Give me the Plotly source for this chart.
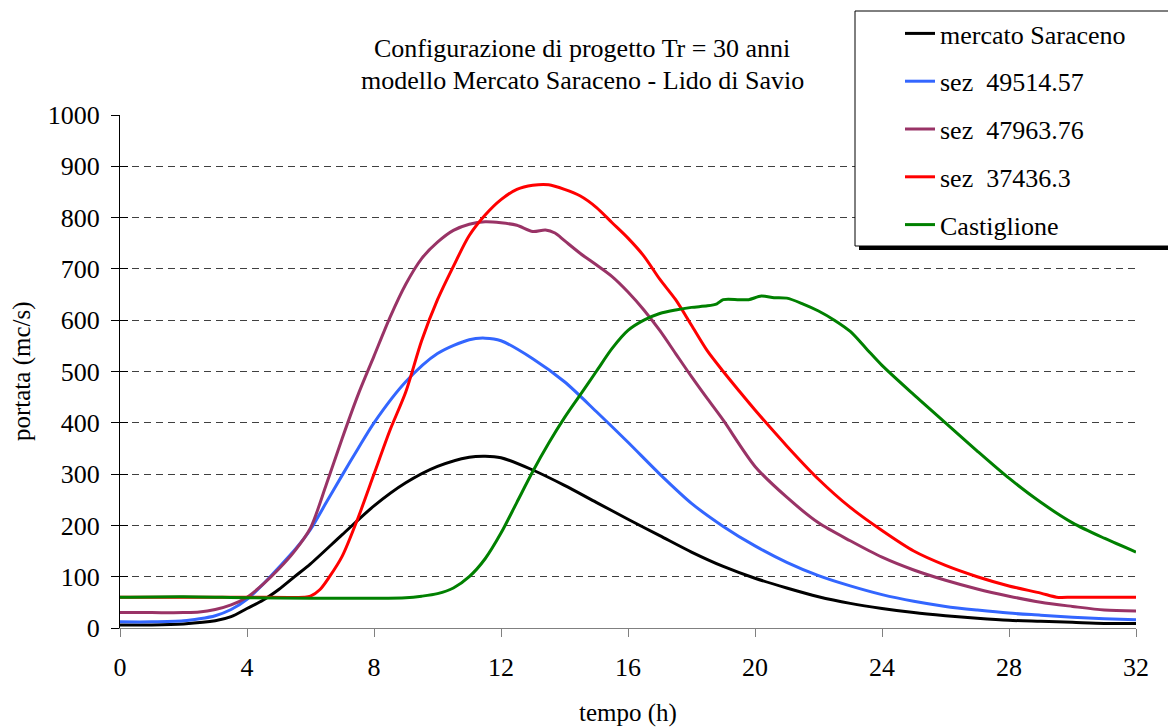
import plotly.graph_objects as go

# ---------------- data ----------------
t_black = [0, 1, 2, 3, 3.5, 4, 4.5, 5, 5.5, 6, 7, 8, 9, 10, 11, 11.5, 12, 13, 14, 15, 16, 17, 18,
           19, 20, 21, 22, 23, 24, 25, 26, 27, 28, 29, 30, 31, 32]
v_black = [6, 6, 8, 14, 22, 38, 54, 75, 100, 125, 182, 238, 283, 315, 333, 335, 332, 308, 278, 245,
           212, 180, 148, 120, 97, 78, 61, 48, 38, 30, 24, 19, 15, 13, 11, 9, 9]

t_blue = [0, 1, 2, 2.5, 3, 3.5, 4, 4.5, 5, 5.5, 6, 6.5, 7, 7.5, 8, 9, 10, 11, 11.5, 12, 13, 14, 15,
          16, 17, 18, 19, 20, 21, 22, 23, 24, 25, 26, 27, 28, 29, 30, 31, 32]
v_blue = [12, 12, 14, 18, 24, 36, 56, 85, 118, 152, 192, 245, 298, 350, 400, 480, 535, 562, 565, 560,
          525, 480, 422, 362, 300, 243, 198, 160, 128, 102, 82, 65, 52, 42, 35, 29, 25, 21, 18, 16]

t_purple = [0, 1, 2, 2.5, 3, 3.5, 4, 4.5, 5, 5.5, 6, 6.5, 7, 7.5, 8, 8.5, 9, 9.5, 10, 10.5, 11, 11.5,
            12, 12.5, 13, 13.4, 13.7, 14, 14.5, 15, 15.5, 16, 16.5, 17, 17.5, 18, 18.5, 19, 20, 21,
            22, 23, 24, 25, 26, 27, 28, 29, 30, 31, 32]
v_purple = [30, 30, 30, 31, 36, 45, 60, 85, 115, 150, 195, 280, 370, 455, 530, 605, 670, 720, 752, 775,
            787, 792, 790, 785, 773, 776, 770, 755, 730, 708, 685, 655, 620, 580, 535, 490, 447, 405,
            315, 255, 205, 170, 138, 113, 93, 76, 62, 50, 42, 35, 33]

t_red = [0, 2, 4, 5.8, 6, 6.3, 6.6, 7, 7.5, 8, 8.5, 9, 9.5, 10, 10.5, 11, 11.5, 12, 12.5, 13, 13.5,
         14, 14.5, 15, 15.5, 16, 16.5, 17, 17.5, 18, 18.5, 19, 19.5, 20, 21, 22, 23, 24, 25, 26, 27,
         28, 29, 29.5, 30, 31, 32]
v_red = [60, 60, 60, 60, 62, 75, 100, 140, 215, 300, 385, 460, 560, 640, 705, 765, 805, 835, 855, 863,
         864, 855, 842, 820, 790, 760, 725, 680, 640, 590, 540, 500, 462, 425, 355, 290, 235, 190, 150,
         122, 100, 82, 68, 60, 60, 60, 60]

t_green = [0, 2, 4, 6, 8, 9, 9.5, 10, 10.5, 11, 11.5, 12, 12.5, 13, 13.5, 14, 14.5, 15, 15.5, 16, 16.5,
           17, 17.5, 18, 18.5, 18.8, 19, 19.5, 19.8, 20.2, 20.6, 21, 21.5, 22, 22.5, 23, 23.5, 24, 25,
           26, 27, 28, 29, 30, 31, 32]
v_green = [60, 61, 59, 58, 58, 59, 62, 67, 78, 100, 135, 185, 245, 305, 360, 410, 455, 500, 545, 580,
           600, 613, 620, 625, 628, 632, 640, 640, 640, 647, 644, 643, 632, 618, 600, 578, 545, 512,
           455, 400, 345, 292, 245, 205, 175, 148]

series = [
    ("mercato Saraceno", t_black, v_black, "#000000"),
    ("sez  49514.57", t_blue, v_blue, "#3366FF"),
    ("sez  47963.76", t_purple, v_purple, "#993366"),
    ("sez  37436.3", t_red, v_red, "#FF0000"),
    ("Castiglione", t_green, v_green, "#008000"),
]

title_lines = ["Configurazione di progetto Tr = 30 anni",
               "modello Mercato Saraceno - Lido di Savio"]
x_title = "tempo (h)"
y_title = "portata (mc/s)"
x_ticks = [0, 4, 8, 12, 16, 20, 24, 28, 32]
y_ticks = list(range(0, 1001, 100))

# ---------------- layout geometry (page pixels; the page body has an 8px margin) ----------------
OFF = 8
W, H = 1176 - OFF, 727 - OFF
L, R, T, B = 120 - OFF, 1136 - OFF, 115 - OFF, 628 - OFF
pw, ph = R - L, B - T


def px(xp):
    return (xp - OFF - L) / pw


def py(yp):
    return (B - (yp - OFF)) / ph


FONT = "Liberation Serif"

fig = go.Figure()
for i, (name, t, v, c) in enumerate(series):
    fig.add_trace(go.Scatter(x=t, y=v, name=name, mode="lines",
                             line=dict(color=c, width=3, shape="spline", smoothing=0.8),
                             legendgroup=f"g{i}"))

# dummy trace for inner y ticks
fig.add_trace(go.Scatter(x=[None], y=[None], yaxis="y2", showlegend=False, hoverinfo="skip"))

fig.update_layout(
    width=W, height=H,
    margin=dict(l=L, r=W - R, t=T, b=H - B, autoexpand=False),
    paper_bgcolor="white", plot_bgcolor="white",
    font=dict(family=FONT, size=26, color="black"),
    showlegend=True,
    legend=dict(x=px(900), y=py(10), xanchor="left", yanchor="top",
                bgcolor="rgba(0,0,0,0)", borderwidth=0,
                font=dict(family=FONT, size=26, color="black"),
                tracegroupgap=11, itemwidth=30),
    xaxis=dict(range=[0, 32], tickvals=x_ticks, ticktext=[str(v) for v in x_ticks],
               automargin=False,
               showgrid=False, zeroline=False, showline=True, linecolor="#808080", linewidth=1,
               ticks="outside", ticklen=8, tickcolor="#808080", tickwidth=1,
               ticklabelstandoff=8, tickfont=dict(family=FONT, size=26)),
    yaxis=dict(range=[0, 1000], tickvals=y_ticks, ticktext=[str(v) for v in y_ticks],
               automargin=False,
               showgrid=True, gridcolor="#404040", gridwidth=1, griddash="7px,5px",
               zeroline=False, showline=True, linecolor="#000000", linewidth=1,
               ticks="outside", ticklen=8, tickcolor="#000000", tickwidth=1,
               ticklabelstandoff=6, tickfont=dict(family=FONT, size=26)),
    yaxis2=dict(range=[0, 1000], tickvals=y_ticks, overlaying="y", side="left", anchor="x",
                automargin=False,
                showgrid=False, zeroline=False, showline=False, showticklabels=False,
                ticks="inside", ticklen=8, tickcolor="#000000", tickwidth=1),
)

for k, line in enumerate(title_lines):
    fig.add_annotation(text=line, xref="paper", yref="paper", x=px(582), y=py(48 + 32 * k),
                       xanchor="center", yanchor="middle", showarrow=False,
                       font=dict(family=FONT, size=26, color="black"))

# axis titles
fig.add_annotation(text=x_title, xref="paper", yref="paper", x=px(628), y=py(713),
                   xanchor="center", yanchor="middle", showarrow=False,
                   font=dict(family=FONT, size=25, color="black"))
fig.add_annotation(text=y_title, xref="paper", yref="paper", x=px(22), y=py(371),
                   xanchor="center", yanchor="middle", showarrow=False, textangle=-90,
                   font=dict(family=FONT, size=25, color="black"))

# legend box with shadow
fig.add_shape(type="rect", xref="paper", yref="paper", layer="above",
              x0=px(859), x1=px(1182), y0=py(250), y1=py(15),
              fillcolor="black", line=dict(width=0))
fig.add_shape(type="rect", xref="paper", yref="paper", layer="above",
              x0=px(855), x1=px(1175), y0=py(246), y1=py(11),
              fillcolor="white", line=dict(color="black", width=1))

fig.write_html("out.html")
